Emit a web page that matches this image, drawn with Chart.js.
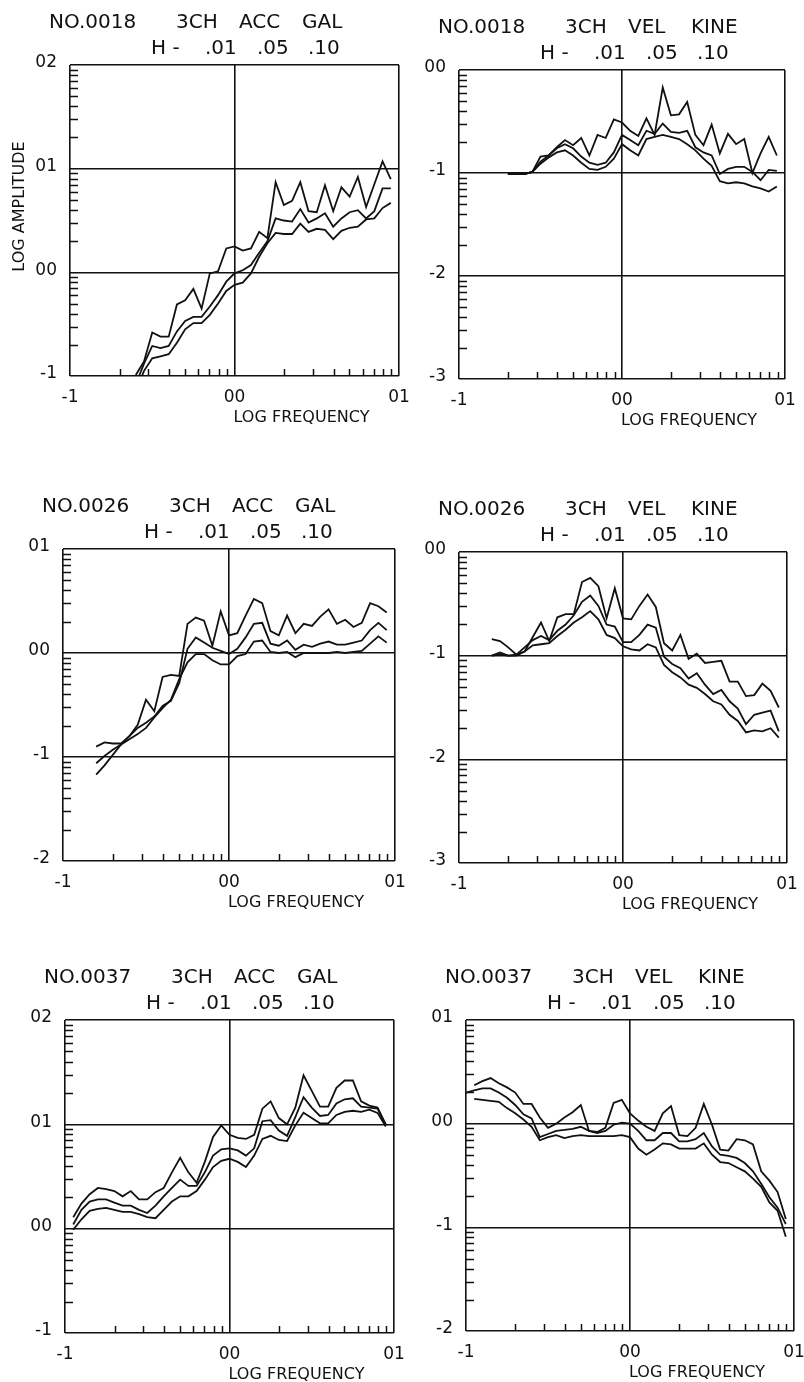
<!DOCTYPE html>
<html lang="en">
<head>
<meta charset="UTF-8">
<title>3CH response spectra</title>
<script src="https://cdn.jsdelivr.net/npm/chart.js"></script>
<style>
  body { margin: 0; background: #fff; }
  #sheet { position: relative; width: 804px; height: 1382px; overflow: hidden; background: #fff; }
  #sheet canvas { position: absolute; }
</style>
</head>
<body>
<div id="sheet"></div>
<script>
// log10 frequency and log10 amplitude per damping ratio (H = .01 / .05 / .10)
const freq0018Acc = [-0.60,-0.55,-0.50,-0.45,-0.40,-0.35,-0.30,-0.25,-0.20,-0.15,-0.10,-0.05,0.00,0.05,0.10,0.15,0.20,0.25,0.30,0.35,0.40,0.45,0.50,0.55,0.60,0.65,0.70,0.75,0.80,0.85,0.90,0.95];
const acc0018H01 = [-0.99,-0.86,-0.58,-0.62,-0.62,-0.31,-0.27,-0.16,-0.35,-0.01,0.01,0.23,0.25,0.21,0.23,0.39,0.33,0.87,0.65,0.69,0.87,0.59,0.58,0.84,0.59,0.82,0.73,0.92,0.63,0.85,1.07,0.90];
const acc0018H05 = [-1.08,-0.88,-0.71,-0.73,-0.71,-0.57,-0.47,-0.43,-0.43,-0.33,-0.22,-0.09,-0.01,0.02,0.07,0.19,0.30,0.52,0.50,0.49,0.61,0.48,0.52,0.57,0.44,0.52,0.58,0.60,0.52,0.59,0.81,0.81];
const acc0018H10 = [-1.15,-0.95,-0.83,-0.81,-0.79,-0.68,-0.55,-0.49,-0.49,-0.41,-0.30,-0.18,-0.12,-0.10,-0.01,0.15,0.28,0.38,0.37,0.37,0.47,0.39,0.42,0.41,0.32,0.40,0.43,0.44,0.51,0.52,0.62,0.67];

const freq0018Vel = [-0.70,-0.65,-0.60,-0.55,-0.50,-0.45,-0.40,-0.35,-0.30,-0.25,-0.20,-0.15,-0.10,-0.05,0.00,0.05,0.10,0.15,0.20,0.25,0.30,0.35,0.40,0.45,0.50,0.55,0.60,0.65,0.70,0.75,0.80,0.85,0.90,0.95];
const vel0018H01 = [-1.01,-1.01,-1.01,-0.99,-0.84,-0.83,-0.75,-0.68,-0.73,-0.66,-0.83,-0.63,-0.66,-0.48,-0.51,-0.59,-0.64,-0.47,-0.63,-0.17,-0.44,-0.43,-0.31,-0.63,-0.73,-0.53,-0.81,-0.62,-0.72,-0.67,-1.00,-0.81,-0.65,-0.83];
const vel0018H05 = [-1.01,-1.01,-1.01,-0.99,-0.89,-0.83,-0.76,-0.72,-0.76,-0.84,-0.90,-0.92,-0.90,-0.80,-0.63,-0.68,-0.73,-0.59,-0.62,-0.52,-0.60,-0.61,-0.59,-0.75,-0.80,-0.83,-1.01,-0.96,-0.94,-0.94,-0.99,-1.07,-0.97,-0.98];
const vel0018H10 = [-1.01,-1.01,-1.01,-0.99,-0.91,-0.85,-0.80,-0.78,-0.83,-0.90,-0.96,-0.97,-0.94,-0.86,-0.72,-0.78,-0.83,-0.67,-0.65,-0.63,-0.65,-0.67,-0.72,-0.78,-0.86,-0.93,-1.08,-1.10,-1.09,-1.10,-1.13,-1.15,-1.18,-1.13];

const freq0026 = [-0.80,-0.75,-0.70,-0.65,-0.60,-0.55,-0.50,-0.45,-0.40,-0.35,-0.30,-0.25,-0.20,-0.15,-0.10,-0.05,0.00,0.05,0.10,0.15,0.20,0.25,0.30,0.35,0.40,0.45,0.50,0.55,0.60,0.65,0.70,0.75,0.80,0.85,0.90,0.95];
const acc0026H01 = [-0.90,-0.86,-0.87,-0.87,-0.80,-0.69,-0.45,-0.56,-0.23,-0.21,-0.22,0.28,0.34,0.31,0.07,0.40,0.17,0.19,0.36,0.52,0.48,0.21,0.17,0.36,0.19,0.28,0.26,0.35,0.42,0.28,0.32,0.25,0.29,0.48,0.45,0.39];
const acc0026H05 = [-1.06,-0.99,-0.93,-0.88,-0.80,-0.72,-0.67,-0.61,-0.51,-0.46,-0.29,0.04,0.15,0.10,0.05,0.02,-0.01,0.04,0.15,0.28,0.29,0.09,0.07,0.12,0.03,0.08,0.06,0.09,0.11,0.08,0.08,0.10,0.12,0.22,0.29,0.22];
const acc0026H10 = [-1.17,-1.08,-0.98,-0.88,-0.83,-0.78,-0.72,-0.62,-0.53,-0.45,-0.25,-0.09,-0.01,-0.01,-0.07,-0.11,-0.11,-0.03,-0.01,0.11,0.12,0.01,0.00,0.01,-0.04,0.00,0.00,0.00,0.00,0.01,0.00,0.01,0.02,0.09,0.16,0.10];
const vel0026H01 = [-0.84,-0.86,-0.92,-0.99,-0.96,-0.82,-0.68,-0.86,-0.63,-0.60,-0.60,-0.29,-0.25,-0.33,-0.64,-0.35,-0.64,-0.65,-0.52,-0.41,-0.53,-0.88,-0.95,-0.80,-1.03,-0.98,-1.07,-1.06,-1.05,-1.25,-1.25,-1.39,-1.38,-1.27,-1.34,-1.50];
const vel0026H05 = [-1.00,-0.97,-1.00,-0.99,-0.92,-0.85,-0.81,-0.85,-0.76,-0.70,-0.61,-0.48,-0.42,-0.52,-0.70,-0.72,-0.87,-0.87,-0.80,-0.70,-0.73,-1.01,-1.08,-1.12,-1.22,-1.17,-1.28,-1.37,-1.33,-1.44,-1.51,-1.66,-1.57,-1.55,-1.53,-1.73];
const vel0026H10 = [-1.00,-0.99,-1.00,-1.00,-0.96,-0.90,-0.89,-0.88,-0.81,-0.75,-0.68,-0.63,-0.57,-0.65,-0.80,-0.83,-0.91,-0.94,-0.95,-0.89,-0.92,-1.09,-1.16,-1.21,-1.28,-1.31,-1.37,-1.44,-1.47,-1.57,-1.63,-1.74,-1.72,-1.73,-1.70,-1.79];

const freq0037Acc = [-0.95,-0.90,-0.85,-0.80,-0.75,-0.70,-0.65,-0.60,-0.55,-0.50,-0.45,-0.40,-0.35,-0.30,-0.25,-0.20,-0.15,-0.10,-0.05,0.00,0.05,0.10,0.15,0.20,0.25,0.30,0.35,0.40,0.45,0.50,0.55,0.60,0.65,0.70,0.75,0.80,0.85,0.90,0.95];
const acc0037H01 = [0.11,0.24,0.33,0.39,0.38,0.36,0.31,0.36,0.28,0.28,0.35,0.39,0.54,0.68,0.54,0.44,0.64,0.88,0.99,0.90,0.87,0.86,0.90,1.15,1.22,1.06,1.00,1.16,1.47,1.32,1.17,1.17,1.35,1.42,1.42,1.22,1.18,1.16,1.00];
const acc0037H05 = [0.04,0.18,0.26,0.28,0.28,0.25,0.22,0.22,0.18,0.15,0.22,0.31,0.39,0.47,0.41,0.41,0.54,0.70,0.76,0.77,0.75,0.70,0.77,1.03,1.04,0.94,0.89,1.07,1.26,1.16,1.08,1.09,1.20,1.24,1.25,1.17,1.16,1.15,0.99];
const acc0037H10 = [-0.01,0.09,0.17,0.19,0.20,0.18,0.16,0.16,0.14,0.11,0.10,0.18,0.26,0.31,0.31,0.36,0.47,0.59,0.65,0.67,0.64,0.59,0.70,0.86,0.89,0.85,0.84,0.99,1.11,1.06,1.01,1.01,1.09,1.12,1.13,1.12,1.14,1.11,0.98];

const freq0037Vel = [-1.00,-0.95,-0.90,-0.85,-0.80,-0.75,-0.70,-0.65,-0.60,-0.55,-0.50,-0.45,-0.40,-0.35,-0.30,-0.25,-0.20,-0.15,-0.10,-0.05,0.00,0.05,0.10,0.15,0.20,0.25,0.30,0.35,0.40,0.45,0.50,0.55,0.60,0.65,0.70,0.75,0.80,0.85,0.90,0.95];
const vel0037H01 = [null,0.37,0.41,0.44,0.39,0.35,0.30,0.19,0.19,0.06,-0.04,0.00,0.06,0.11,0.18,-0.07,-0.08,-0.04,0.20,0.23,0.10,0.03,-0.03,-0.07,0.10,0.17,-0.11,-0.12,-0.04,0.19,-0.01,-0.25,-0.26,-0.15,-0.16,-0.20,-0.46,-0.55,-0.66,-0.92];
const vel0037H05 = [0.30,0.32,0.34,0.34,0.30,0.25,0.18,0.09,0.05,-0.13,-0.10,-0.07,-0.06,-0.05,-0.03,-0.07,-0.09,-0.07,-0.01,0.01,0.00,-0.07,-0.16,-0.16,-0.09,-0.09,-0.17,-0.17,-0.15,-0.09,-0.22,-0.30,-0.31,-0.33,-0.38,-0.46,-0.58,-0.71,-0.81,-0.97];
const vel0037H10 = [null,0.24,0.23,0.22,0.21,0.15,0.10,0.04,-0.03,-0.16,-0.13,-0.11,-0.14,-0.12,-0.11,-0.12,-0.12,-0.12,-0.12,-0.11,-0.13,-0.24,-0.30,-0.25,-0.19,-0.20,-0.24,-0.24,-0.24,-0.19,-0.30,-0.37,-0.38,-0.42,-0.46,-0.53,-0.61,-0.76,-0.84,-1.09];

// decade tick labels as the plotter wrote them
const decadeValues = [-3, -2, -1, 0, 1, 2];
const decadeLabels = ['-3', '-2', '-1', '00', '01', '02'];
const dampingLabels = ['.01', '.05', '.10'];

const INK = '#111111';
const FONT = '"DejaVu Sans", sans-serif';

// plot box on the sheet: [left, top, right, bottom]
const panels = [
  { no: 'NO.0018', kind: 'ACC', unit: 'GAL',  freq: freq0018Acc, h: [acc0018H01, acc0018H05, acc0018H10], yMin: -1, yMax: 2, yTitle: true, box: [70, 65, 399, 376] },
  { no: 'NO.0018', kind: 'VEL', unit: 'KINE', freq: freq0018Vel, h: [vel0018H01, vel0018H05, vel0018H10], yMin: -3, yMax: 0, box: [459, 70, 785, 379] },
  { no: 'NO.0026', kind: 'ACC', unit: 'GAL',  freq: freq0026,    h: [acc0026H01, acc0026H05, acc0026H10], yMin: -2, yMax: 1, box: [63, 549, 395, 861] },
  { no: 'NO.0026', kind: 'VEL', unit: 'KINE', freq: freq0026,    h: [vel0026H01, vel0026H05, vel0026H10], yMin: -3, yMax: 0, box: [459, 552, 787, 863] },
  { no: 'NO.0037', kind: 'ACC', unit: 'GAL',  freq: freq0037Acc, h: [acc0037H01, acc0037H05, acc0037H10], yMin: -1, yMax: 2, box: [65, 1020, 394, 1333] },
  { no: 'NO.0037', kind: 'VEL', unit: 'KINE', freq: freq0037Vel, h: [vel0037H01, vel0037H05, vel0037H10], yMin: -2, yMax: 1, box: [466, 1020, 794, 1331] }
];

const PAD_L = 70, PAD_T = 70, PAD_R = 30, PAD_B = 52;

// minor log ticks, the two-line header and the axis captions
const plotterMarks = {
  id: 'plotterMarks',
  afterDraw(chart, args, opts) {
    const { ctx, chartArea: a, scales: { x, y } } = chart;
    ctx.save();
    ctx.strokeStyle = INK;
    ctx.lineWidth = 1.5;
    ctx.beginPath();
    for (let d = x.min; d < x.max; d++) {
      for (let k = 2; k <= 9; k++) {
        const px = Math.round(x.getPixelForValue(d + Math.log10(k))) + 0.5;
        ctx.moveTo(px, a.bottom);
        ctx.lineTo(px, a.bottom - 7);
      }
    }
    for (let d = y.min; d < y.max; d++) {
      for (let k = 2; k <= 9; k++) {
        const py = Math.round(y.getPixelForValue(d + Math.log10(k))) + 0.5;
        ctx.moveTo(a.left, py);
        ctx.lineTo(a.left + 8, py);
      }
    }
    ctx.stroke();

    ctx.fillStyle = INK;
    ctx.textAlign = 'left';
    ctx.textBaseline = 'alphabetic';
    ctx.font = '20px ' + FONT;
    const row1 = [opts.no, '3CH', opts.kind, opts.unit];
    [-21, 106, 169, 232].forEach((dx, i) => ctx.fillText(row1[i], a.left + dx, a.top - 37));
    const row2 = ['H -', ...dampingLabels];
    [81, 135, 187, 238].forEach((dx, i) => ctx.fillText(row2[i], a.left + dx, a.top - 11));

    ctx.font = '16px ' + FONT;
    ctx.fillText('LOG FREQUENCY', x.getPixelForValue(0) - 1, a.bottom + 46);
    if (opts.yTitle) {
      ctx.translate(a.left - 50, (a.top + a.bottom) / 2 - 14);
      ctx.rotate(-Math.PI / 2);
      ctx.textAlign = 'center';
      ctx.textBaseline = 'middle';
      ctx.fillText('LOG AMPLITUDE', 0, 0);
    }
    ctx.restore();
  }
};

const tickLabel = v => decadeLabels[decadeValues.indexOf(v)];
const sheet = document.getElementById('sheet');

panels.forEach(p => {
  const [l, t, r, b] = p.box;
  const w = r - l + PAD_L + PAD_R;
  const h = b - t + PAD_T + PAD_B;
  const cv = document.createElement('canvas');
  cv.width = w;
  cv.height = h;
  cv.style.left = (l - PAD_L) + 'px';
  cv.style.top = (t - PAD_T) + 'px';
  cv.style.width = w + 'px';
  cv.style.height = h + 'px';
  sheet.appendChild(cv);

  new Chart(cv, {
    type: 'line',
    data: {
      datasets: p.h.map(series => ({
        data: p.freq.map((f, i) => ({ x: f, y: series[i] })),
        borderColor: INK,
        borderWidth: 1.8,
        pointRadius: 0,
        tension: 0,
        fill: false
      }))
    },
    options: {
      responsive: false,
      animation: false,
      events: [],
      layout: { padding: { left: 0, top: PAD_T, right: PAD_R, bottom: 0 } },
      plugins: {
        legend: { display: false },
        tooltip: { enabled: false },
        plotterMarks: { no: p.no, kind: p.kind, unit: p.unit, yTitle: !!p.yTitle }
      },
      scales: {
        x: {
          type: 'linear',
          min: -1,
          max: 1,
          afterFit: s => { s.height = PAD_B; },
          border: { display: false },
          grid: { color: INK, lineWidth: 1.6, drawTicks: false },
          ticks: { stepSize: 1, padding: 11, maxRotation: 0, autoSkip: false, color: INK, font: { family: FONT, size: 17 }, callback: tickLabel }
        },
        y: {
          type: 'linear',
          min: p.yMin,
          max: p.yMax,
          afterFit: s => { s.width = PAD_L; },
          border: { display: false },
          grid: { color: INK, lineWidth: 1.6, drawTicks: false },
          ticks: { stepSize: 1, padding: 13, labelOffset: -2, color: INK, font: { family: FONT, size: 17 }, callback: tickLabel }
        }
      }
    },
    plugins: [plotterMarks]
  });
});
</script>
</body>
</html>
